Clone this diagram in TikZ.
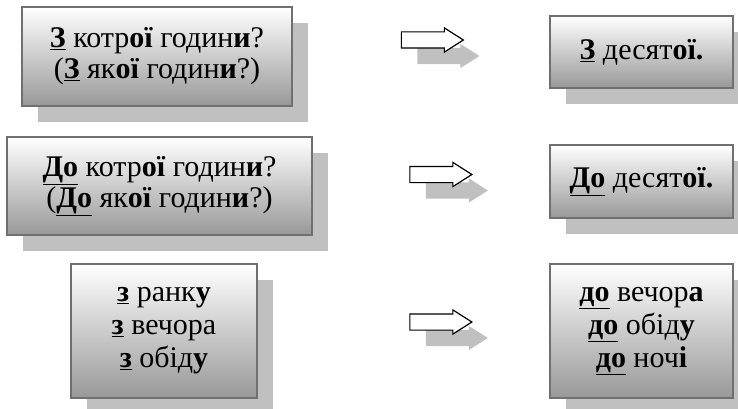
\documentclass[tikz,border=0pt]{standalone}
\usepackage{fontspec}
\setmainfont{Liberation Serif}
\usepackage{xcolor}
\usetikzlibrary{
    shapes.arrows,
    shadows,
    positioning
}
\definecolor{boxline}{HTML}{707070}
\definecolor{boxshade}{HTML}{C0C0C0}
\definecolor{boxdark}{HTML}{989898}
\newcommand{\prep}[1]{\underline{\textbf{#1}}}
\newcommand{\emb}[1]{\textbf{#1}}

\begin{document}
\begin{tikzpicture}[x=1pt, y=-1pt,
    box/.style={draw=boxline, line width=2pt, top color=white, bottom color=boxdark,
        align=center, inner sep=0pt, font=\fontsize{30}{31}\selectfont,
        drop shadow={shadow xshift=16pt, shadow yshift=-16pt, fill=boxshade, opacity=1}},
    pointer/.style={single arrow, draw=black, fill=white, line width=1.2pt,
        minimum height=62pt, inner xsep=0pt, inner ysep=7.5pt,
        single arrow head extend=4pt, single arrow tip angle=65,
        drop shadow={shadow xshift=16pt, shadow yshift=-16pt, fill=boxshade, draw=none, opacity=1}}]
    \useasboundingbox (0,0) rectangle (738,409);
    % questions
    \node[box, minimum width=270pt, minimum height=99pt] (from) at (157,56.5)
        {\prep{З} котр\emb{ої} годин\emb{и}?\\(\prep{З} як\emb{ої} годин\emb{и}?)};
    \node[box, minimum width=305pt, minimum height=98pt] (till) at (159.5,186)
        {\prep{До} котр\emb{ої} годин\emb{и}?\\(\prep{До} як\emb{ої} годин\emb{и}?)};
    \node[box, minimum width=186pt, minimum height=134pt, font=\fontsize{30}{33}\selectfont] (fromlist) at (164,331)
        {\prep{з} ранк\emb{у}\\\prep{з} вечора\\\prep{з} обід\emb{у}};
    % answers
    \node[box, minimum width=183pt, minimum height=72pt] (fromans) at (641.5,52)
        {\prep{З} десят\emb{ої.}};
    \node[box, minimum width=183pt, minimum height=73pt] (tillans) at (641.5,181.5)
        {\prep{До} десят\emb{ої.}};
    \node[box, minimum width=183pt, minimum height=134pt, font=\fontsize{30}{33}\selectfont] (tilllist) at (641.5,331)
        {\prep{до} вечор\emb{а}\\\prep{до} обід\emb{у}\\\prep{до} ноч\emb{і}};
    % arrows
    \node[pointer] (a1) at (426,40) {};
    \node[pointer] (a2) at (434.5,174.5) {};
    \node[pointer] (a3) at (434.5,322) {};
\end{tikzpicture}
\end{document}
